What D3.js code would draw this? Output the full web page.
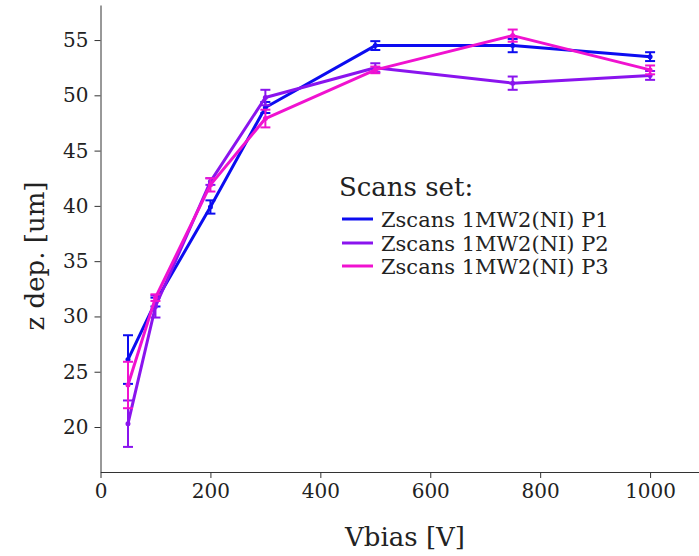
<!DOCTYPE html>
<html>
<head>
<meta charset="utf-8">
<script src="https://cdn.jsdelivr.net/npm/d3@7"></script>
<style>
  body { margin: 0; background: #ffffff; }
  svg { display: block; font-family: "DejaVu Serif", serif; }
</style>
</head>
<body>
<svg id="chart" width="699" height="556"></svg>
<script>
// bias voltages [V]
var vbias = [50, 100, 200, 300, 500, 750, 1000];

// depletion depth [um] and errors per scan set
var seriesNames = ["Zscans 1MW2(NI) P1", "Zscans 1MW2(NI) P2", "Zscans 1MW2(NI) P3"];
var p1Values = [26.1, 31.3, 39.9, 48.9, 54.5, 54.5, 53.5];
var p1Errors = [2.2, 0.4, 0.6, 0.5, 0.4, 0.6, 0.4];
var p2Values = [20.3, 30.9, 42.2, 49.8, 52.5, 51.1, 51.8];
var p2Errors = [2.1, 1.0, 0.3, 0.7, 0.4, 0.6, 0.4];
var p3Values = [23.8, 31.7, 41.9, 47.9, 52.3, 55.4, 52.3];
var p3Errors = [2.1, 0.3, 0.6, 0.8, 0.3, 0.55, 0.4];

var xTicks = [0, 200, 400, 600, 800, 1000];
var yTicks = [20, 25, 30, 35, 40, 45, 50, 55];
var colors = ["#0c0cf0", "#8a14ee", "#f012d0"];

var svg = d3.select("#chart");

var x = d3.scaleLinear().domain([0, 1089]).range([100.5, 699]);
var y = d3.scaleLinear().domain([15.93, 58.17]).range([472, 5]);

// axes
var xAxis = svg
  .append("g")
  .attr("transform", "translate(0,472)")
  .call(
    d3.axisBottom(x)
      .tickValues(xTicks)
      .tickFormat(d3.format("d"))
      .tickSize(6)
      .tickPadding(6)
      .tickSizeOuter(0)
  );
var yAxis = svg
  .append("g")
  .attr("transform", "translate(100.5,0)")
  .call(
    d3.axisLeft(y)
      .tickValues(yTicks)
      .tickFormat(d3.format("d"))
      .tickSize(6)
      .tickPadding(6)
      .tickSizeOuter(0)
  );

[xAxis, yAxis].forEach(function(a) {
  a.select(".domain").attr("stroke", "#333");
  a.selectAll(".tick line").attr("stroke", "#333");
  a.selectAll(".tick text")
    .attr("fill", "#222")
    .style("font-family", "DejaVu Serif")
    .style("font-size", "20px");
});

svg
  .append("text")
  .attr("x", 405)
  .attr("y", 546)
  .attr("text-anchor", "middle")
  .style("font-size", "26px")
  .attr("fill", "#222")
  .text("Vbias [V]");

svg
  .append("text")
  .attr("transform", "translate(44,256) rotate(-90)")
  .attr("text-anchor", "middle")
  .style("font-size", "26px")
  .attr("fill", "#222")
  .text("z dep. [um]");

// series
var series = [
  { name: seriesNames[0], values: p1Values, errors: p1Errors },
  { name: seriesNames[1], values: p2Values, errors: p2Errors },
  { name: seriesNames[2], values: p3Values, errors: p3Errors }
];

var line = d3
  .line()
  .x(function(d) { return x(d.v); })
  .y(function(d) { return y(d.z); });

series.forEach(function(s, k) {
  var pts = vbias.map(function(v, i) {
    return { v: v, z: s.values[i], e: s.errors[i] };
  });
  var g = svg.append("g");
  g.append("path")
    .attr("d", line(pts))
    .attr("fill", "none")
    .attr("stroke", colors[k])
    .attr("stroke-width", 3)
    .attr("stroke-linejoin", "round");
  var eb = g.selectAll(".eb").data(pts).enter().append("g");
  eb.append("line")
    .attr("x1", function(d) { return x(d.v); })
    .attr("x2", function(d) { return x(d.v); })
    .attr("y1", function(d) { return y(d.z - d.e); })
    .attr("y2", function(d) { return y(d.z + d.e); })
    .attr("stroke", colors[k])
    .attr("stroke-width", 2);
  [-1, 1].forEach(function(sign) {
    eb.append("line")
      .attr("x1", function(d) { return x(d.v) - 5; })
      .attr("x2", function(d) { return x(d.v) + 5; })
      .attr("y1", function(d) { return y(d.z + sign * d.e); })
      .attr("y2", function(d) { return y(d.z + sign * d.e); })
      .attr("stroke", colors[k])
      .attr("stroke-width", 2);
  });
  eb.append("circle")
    .attr("cx", function(d) { return x(d.v); })
    .attr("cy", function(d) { return y(d.z); })
    .attr("r", 2.5)
    .attr("fill", colors[k]);
});

// legend
var lg = svg.append("g");
lg.append("text")
  .attr("x", 339)
  .attr("y", 196)
  .style("font-size", "26px")
  .attr("fill", "#222")
  .text("Scans set:");
var ly = [219, 243, 266];
series.forEach(function(s, k) {
  lg.append("line")
    .attr("x1", 342)
    .attr("x2", 373)
    .attr("y1", ly[k])
    .attr("y2", ly[k])
    .attr("stroke", colors[k])
    .attr("stroke-width", 3);
  lg.append("text")
    .attr("x", 381)
    .attr("y", ly[k])
    .attr("dy", "0.36em")
    .style("font-size", "21px")
    .attr("fill", "#222")
    .text(s.name);
});
</script>
</body>
</html>
